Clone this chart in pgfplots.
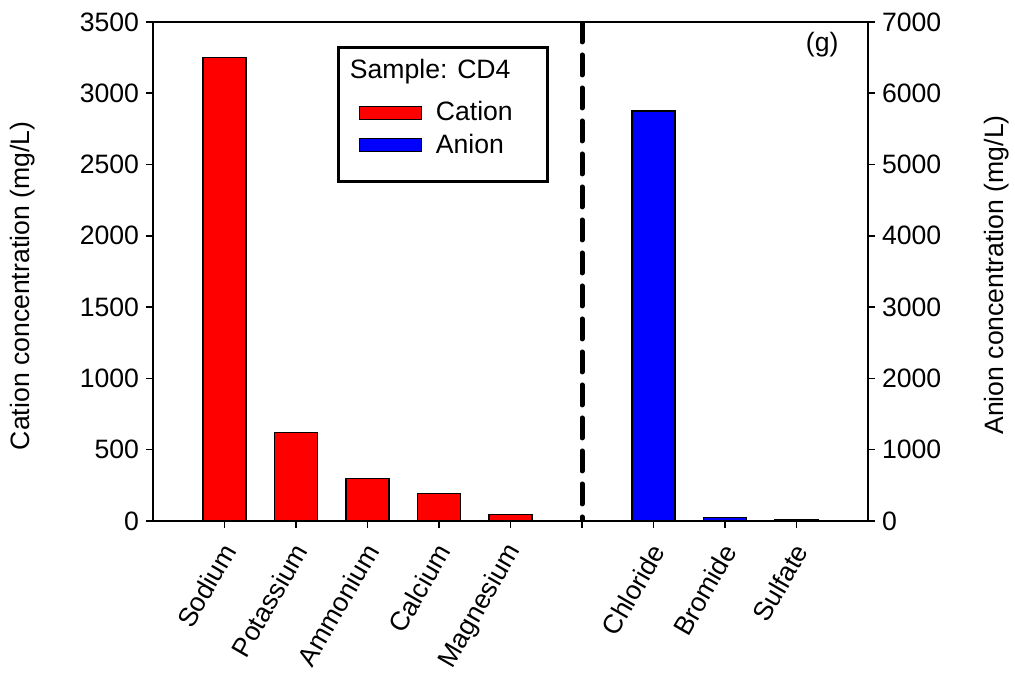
\documentclass[border=0pt]{standalone}
\usepackage{pgfplots}
\pgfplotsset{compat=1.18}
\usepackage{fontspec}
\setmainfont{Liberation Sans}
\pgfplotsset{
  boxlegend/.style={legend image code/.code={\draw[##1] (4.5pt,-3.25pt) rectangle (35.5pt,3.25pt);}},
  base/.style={
    scale only axis, width=357.5pt, height=249.5pt,
    xmin=0, xmax=10,
    /pgf/number format/assume math mode=true,
    /pgf/number format/1000 sep={},
    tick align=outside, major tick length=3.5pt,
    axis line style={line width=0.75pt},
    every tick/.style={line width=0.75pt, black},
    tick label style={font=\fontsize{13.3}{16}\selectfont},
    label style={font=\fontsize{13.3}{16}\selectfont},
  }
}
\begin{document}
\begin{tikzpicture}[font=\fontsize{13.3}{16}\selectfont]
\begin{axis}[base,
  ymin=0, ymax=3500, ytick={0,500,...,3500},
  ytick pos=left, xtick pos=bottom,
  xtick={1,...,9},
  xticklabels={Sodium,Potassium,Ammonium,Calcium,Magnesium,,Chloride,Bromide,Sulfate},
  x tick label style={rotate=60, anchor=east, xshift=-3.6pt, yshift=-6.7pt},
  ylabel={Cation concentration (mg/L)},
  ylabel style={at={(rel axis cs:-0.183,0.471)}, anchor=center},
]
\addplot[ybar, bar width=0.6, bar shift=0pt, fill=red, draw=black, line width=0.6pt]
  coordinates {(1,3250) (2,620) (3,300) (4,192) (5,45)};
\addplot[black, line width=2.5pt, line cap=round, dash pattern=on 10pt off 6.5pt]
  coordinates {(6,3500) (6,0)};
\node[anchor=center] at (rel axis cs:0.936,0.954) {(g)};
\coordinate (bl) at (rel axis cs:-0.214,-0.3126);
\coordinate (tr) at (rel axis cs:1.2056,1.044);
\end{axis}
\begin{axis}[base,
  ymin=0, ymax=7000, ytick={0,1000,...,7000},
  axis x line=none, axis y line*=right,
  ylabel={Anion concentration (mg/L)},
  ylabel style={at={(rel axis cs:1.18,0.493)}, anchor=center},
  legend style={at={(rel axis cs:0.257,0.952)}, anchor=north west,
    draw=black, line width=1.5pt, inner xsep=6pt, inner ysep=4pt,
    cells={anchor=west}, row sep=1pt,
    font=\fontsize{13.3}{16}\selectfont},
]
\addlegendimage{empty legend}
\addlegendentry{\hspace*{-38pt}\raisebox{5pt}{Sample: CD4}}
\addlegendimage{fill=red, draw=black, line width=0.6pt, boxlegend}
\addlegendentry{\hspace*{5pt}Cation\hspace*{9.5pt}}
\addplot[ybar, bar width=0.6, bar shift=0pt, fill=blue, draw=black, line width=0.6pt, boxlegend]
  coordinates {(7,5750) (8,50) (9,20)};
\addlegendentry{\hspace*{5pt}Anion}
\addlegendimage{empty legend}
\addlegendentry[inner sep=0pt]{\rule{0pt}{4pt}}
\end{axis}
\pgfresetboundingbox
\path (bl) rectangle (tr);
\end{tikzpicture}
\end{document}
